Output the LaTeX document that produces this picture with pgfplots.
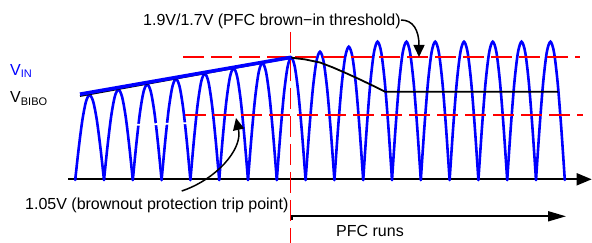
\documentclass[border=0pt]{standalone}
\usepackage{fontspec}
\setmainfont{Liberation Sans}
\usepackage{pgfplots}
\pgfplotsset{compat=1.18}
\usetikzlibrary{arrows.meta}
\begin{document}
\fontsize{16}{19}\selectfont
\begin{tikzpicture}
\begin{axis}[hide axis, scale only axis, width=592pt, height=243pt,
  xmin=0, xmax=592, ymin=-63, ymax=180, clip=false,
  arch/.style={draw=blue, line width=2.6pt, smooth, no markers, line cap=round},
  reddash/.style={draw=red, line width=1.8pt, no markers, dash pattern=on 21pt off 7pt},
  blk/.style={draw=black, line width=1.8pt, no markers}]
% x axis
\addplot[blk, -{Triangle[length=15pt,width=12pt]}] coordinates {(68,0.7) (591.7,0.7)};
% rectified sine arches
\addplot[arch] coordinates {(75.2,0) (78.8,32.5) (82.4,60.1) (86.0,78.5) (89.6,85) (93.2,78.5) (96.8,60.1) (100.4,32.5) (104.0,0)};
\addplot[arch] coordinates {(104,0) (107.6,34.6) (111.2,63.9) (114.8,83.5) (118.4,90.4) (122,83.5) (125.6,63.9) (129.2,34.6) (132.8,0)};
\addplot[arch] coordinates {(132.8,0) (136.4,36.6) (140,67.7) (143.6,88.4) (147.2,95.7) (150.8,88.4) (154.4,67.7) (158,36.6) (161.6,0)};
\addplot[arch] coordinates {(161.6,0) (165.2,38.7) (168.8,71.5) (172.4,93.4) (176,101.1) (179.6,93.4) (183.2,71.5) (186.8,38.7) (190.4,0)};
\addplot[arch] coordinates {(190.4,0) (194,40.7) (197.6,75.2) (201.2,98.3) (204.8,106.4) (208.4,98.3) (212,75.2) (215.6,40.7) (219.2,0)};
\addplot[arch] coordinates {(219.2,0) (222.8,42.8) (226.4,79.1) (230,103.3) (233.6,111.8) (237.2,103.3) (240.8,79.1) (244.4,42.8) (248,0)};
\addplot[arch] coordinates {(248,0) (251.6,44.8) (255.2,82.8) (258.8,108.2) (262.4,117.1) (266,108.2) (269.6,82.8) (273.2,44.8) (276.8,0)};
\addplot[arch] coordinates {(276.8,0) (280.4,46.9) (284,86.6) (287.6,113.2) (291.2,122.5) (294.8,113.2) (298.4,86.6) (302,46.9) (305.6,0)};
\addplot[arch] coordinates {(305.6,0) (309.2,49.1) (312.8,90.7) (316.4,118.5) (320,128.3) (323.6,118.5) (327.2,90.7) (330.8,49.1) (334.4,0)};
\addplot[arch] coordinates {(334.4,0) (338,51.0) (341.6,94.3) (345.2,123.2) (348.8,133.3) (352.4,123.2) (356,94.3) (359.6,51.0) (363.2,0)};
\addplot[arch] coordinates {(363.2,0) (366.8,52.9) (370.4,97.8) (374,127.8) (377.6,138.3) (381.2,127.8) (384.8,97.8) (388.4,52.9) (392,0)};
\addplot[arch] coordinates {(392,0) (395.6,52.9) (399.2,97.8) (402.8,127.8) (406.4,138.3) (410,127.8) (413.6,97.8) (417.2,52.9) (420.8,0)};
\addplot[arch] coordinates {(420.8,0) (424.4,52.9) (428,97.8) (431.6,127.8) (435.2,138.3) (438.8,127.8) (442.4,97.8) (446,52.9) (449.6,0)};
\addplot[arch] coordinates {(449.6,0) (453.2,52.9) (456.8,97.8) (460.4,127.8) (464,138.3) (467.6,127.8) (471.2,97.8) (474.8,52.9) (478.4,0)};
\addplot[arch] coordinates {(478.4,0) (482,52.9) (485.6,97.8) (489.2,127.8) (492.8,138.3) (496.4,127.8) (500,97.8) (503.6,52.9) (507.2,0)};
\addplot[arch] coordinates {(507.2,0) (510.8,52.9) (514.4,97.8) (518,127.8) (521.6,138.3) (525.2,127.8) (528.8,97.8) (532.4,52.9) (536,0)};
\addplot[arch] coordinates {(536,0) (539.6,52.9) (543.2,97.8) (546.8,127.8) (550.4,138.3) (554,127.8) (557.6,97.8) (561.2,52.9) (564.8,0)};
% white gap line
\addplot[draw=white, line width=1.8pt, no markers] coordinates {(130,55) (192,57)};
% red dashed thresholds
\addplot[reddash] coordinates {(183,122.7) (580,122.7)};
\addplot[reddash] coordinates {(185,65) (583,65)};
% PFC runs arrow
\addplot[blk, -{Triangle[length=18pt,width=10pt]}] coordinates {(292,-36.3) (566,-36.3)};
\addplot[blk] coordinates {(292,-35.4) (292,-40)};
\addplot[reddash] coordinates {(290.5,148) (290.5,-63)};
% V_BIBO (black) and envelope (blue)
\addplot[blk] coordinates {(80,84) (291.2,122.3) (305,120.6) (320,117.5) (333,112.5) (345,107.3) (360,100.5) (375,93.3) (385,88.3) (558,88.3)};
\addplot[draw=blue, line width=3.6pt, no markers] coordinates {(80,85.8) (291.2,122.7)};
% annotations
\draw[line width=1.5pt, -{Triangle[length=12pt,width=11pt]}] (axis cs:401,160) .. controls (axis cs:413,160) and (axis cs:419,150) .. (axis cs:419,123);
\draw[line width=1.5pt, -{Triangle[length=12pt,width=11pt]}] (axis cs:181.7,-11) .. controls (axis cs:215,0) and (axis cs:243,30) .. (axis cs:236,62);
\node[anchor=base west, inner sep=0, text=blue] at (axis cs:10,104) {V\raisebox{-2pt}{\fontsize{11}{11}\selectfont IN}};
\node[anchor=base west, inner sep=0] at (axis cs:10,77) {V\raisebox{-2.5pt}{\fontsize{11}{11}\selectfont BIBO}};
\node[anchor=base west, inner sep=0] at (axis cs:143,154) {1.9V/1.7V (PFC brown−in threshold)};
\node[anchor=base west, inner sep=0] at (axis cs:25,-30) {1.05V (brownout protection trip point)};
\node[anchor=base west, inner sep=0] at (axis cs:336,-56.7) {PFC runs};
\end{axis}
\pgfresetboundingbox
\useasboundingbox (0,0) rectangle (592pt,243pt);
\end{tikzpicture}
\end{document}
